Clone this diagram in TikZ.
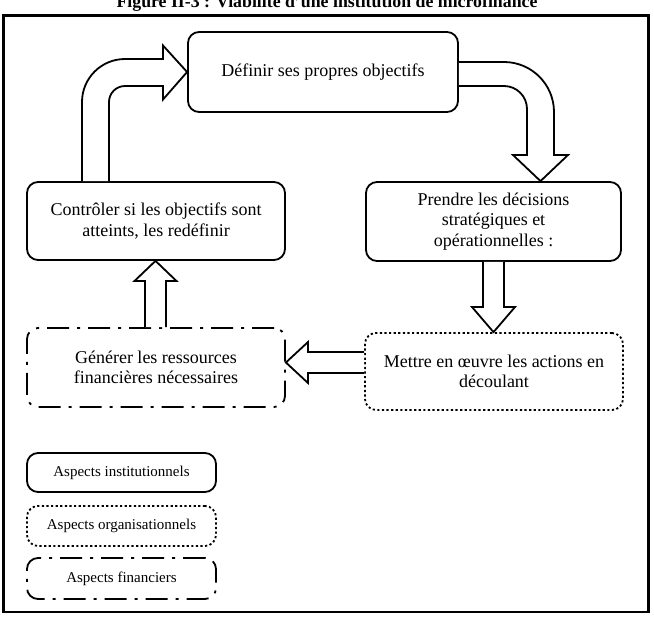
\documentclass[tikz,border=0pt]{standalone}
\usepackage{fontspec}
\setmainfont{Liberation Serif}
\begin{document}
\begin{tikzpicture}[x=1pt,y=-1pt,
  box/.style={draw=black,line width=1.8pt,rounded corners=11pt,align=center,inner sep=0pt,
    font=\fontsize{18pt}{20.5pt}\selectfont},
  legbox/.style={box,font=\fontsize{15pt}{17pt}\selectfont},
  dotbox/.style={dash pattern=on 2.2pt off 2.4pt},
  dashdotbox/.style={dash pattern=on 22pt off 8pt on 3pt off 8pt},
  blockarrow/.style={draw=black,fill=white,line width=1.8pt,line join=miter}]
\useasboundingbox (0,0) rectangle (654,619);
% title (partly cut off at the top, as in the reference)
\node[anchor=base,font=\bfseries\fontsize{17.8pt}{20pt}\selectfont,inner sep=0pt] (title) at (327,7)
  {Figure II-3 : Viabilité d'une institution de microfinance};
% outer frame
\draw[line width=2.5pt] (3.5,15.5) rectangle (648.5,612);
% boxes
\node[box,minimum width=270pt,minimum height=80pt] (def) at (323,72) {Définir ses propres objectifs};
\node[box,minimum width=255pt,minimum height=79pt] (prendre) at (493.5,221.5)
  {Prendre les décisions\\stratégiques et\\opérationnelles :};
\node[box,minimum width=258pt,minimum height=78pt] (ctrl) at (156,221)
  {Contrôler si les objectifs sont\\atteints, les redéfinir};
\node[box,dashdotbox,minimum width=258pt,minimum height=79pt] (gen) at (156,367.5)
  {Générer les ressources\\financières nécessaires};
\node[box,dotbox,minimum width=258pt,minimum height=77pt] (mettre) at (494,371.5)
  {Mettre en œuvre les actions en\\découlant};
% legend
\node[legbox,minimum width=189pt,minimum height=39pt] (leg1) at (121.5,472.5) {Aspects institutionnels};
\node[legbox,dotbox,minimum width=189pt,minimum height=40pt] (leg2) at (121.5,526) {Aspects organisationnels};
\node[legbox,dashdotbox,minimum width=189pt,minimum height=41pt] (leg3) at (121.5,578.5) {Aspects financiers};
% curved arrow: ctrl -> def
\draw[blockarrow] (ctrl.north -| 82,0) -- (82,102) arc[start angle=180,end angle=90,radius=43pt]
  -- (163,59) -- (163,45.5) -- (def.west) -- (163,99.5) -- (163,86) -- (125,86)
  arc[start angle=90,end angle=180,radius=16pt] -- (ctrl.north -| 109,0);
% curved arrow: def -> prendre
\draw[blockarrow] (def.east |- 0,62) -- (504,62) arc[start angle=90,end angle=0,radius=50pt]
  -- (554,155) -- (568,155) -- (prendre.north -| 540.5,0) -- (513,155) -- (527,155) -- (527,109)
  arc[start angle=0,end angle=90,radius=23pt] -- (def.east |- 0,86);
% straight arrow: prendre -> mettre
\draw[blockarrow] (prendre.south -| 483,0) -- (483,307) -- (472,307) -- (mettre.north -| 493.5,0)
  -- (515,307) -- (504,307) -- (prendre.south -| 504,0);
% straight arrow: mettre -> gen
\draw[blockarrow] (mettre.west |- 0,352) -- (308,352) -- (308,342) -- (gen.east |- 0,362.5)
  -- (308,383) -- (308,373) -- (mettre.west |- 0,373);
% straight arrow: gen -> ctrl
\draw[blockarrow] (gen.north -| 145,0) -- (145,281) -- (134.5,281) -- (ctrl.south -| 155.5,0)
  -- (176.5,281) -- (166,281) -- (gen.north -| 166,0);
\end{tikzpicture}
\end{document}
